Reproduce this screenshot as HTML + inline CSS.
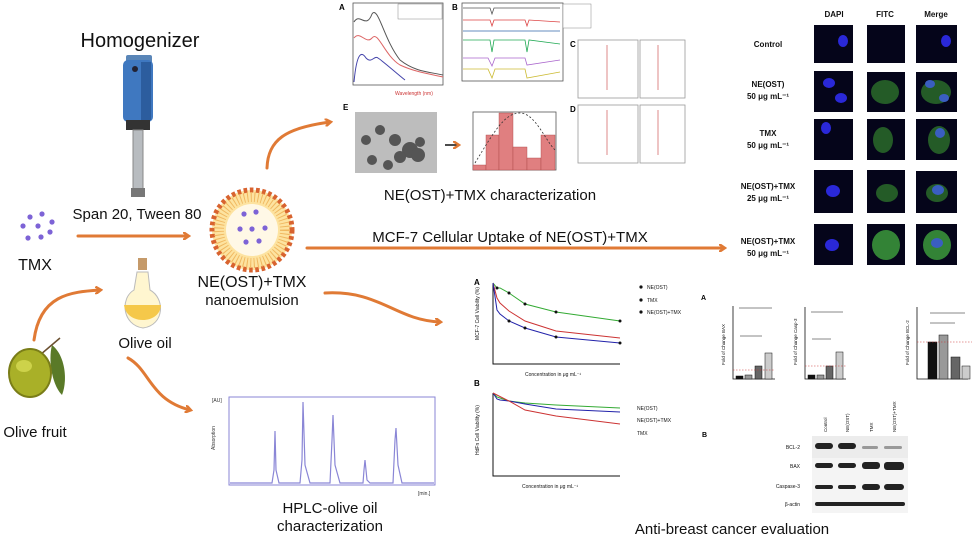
<!DOCTYPE html>
<html><head><meta charset="utf-8"><style>
html,body{margin:0;padding:0;background:#fff}
svg{display:block}
text{font-family:"Liberation Sans",sans-serif}
.big{font-family:"Liberation Sans",sans-serif;fill:#111}
</style></head><body>
<svg width="975" height="538" viewBox="0 0 975 538" xmlns="http://www.w3.org/2000/svg">
<defs>
<marker id="ah" markerWidth="8" markerHeight="8" refX="5" refY="4" orient="auto" markerUnits="userSpaceOnUse"><path d="M0,0 L6,4 L0,8" fill="none" stroke="#e07a35" stroke-width="2.5"/></marker>
</defs>
<g fill="none" stroke="#e07a35" stroke-width="3" stroke-linecap="round" marker-end="url(#ah)">
<path d="M78,236 L188,236"/>
<path d="M307,248 L724,248"/>
<path d="M267,168 C268,140 285,128 330,122"/>
<path d="M34,340 C40,295 70,292 100,290"/>
<path d="M128,358 C150,370 150,400 190,410"/>
<path d="M325,293 C380,290 395,320 440,322"/>
</g>
<!-- Homogenizer -->
<text x="140" y="47" class="big" font-size="20" text-anchor="middle">Homogenizer</text>
<rect x="126" y="55" width="26" height="8" rx="2" fill="#5a86b8"/>
<rect x="123" y="60" width="30" height="62" rx="5" fill="#3f78c0"/>
<rect x="141" y="62" width="10" height="58" fill="#2c5d9e"/>
<circle cx="135" cy="69" r="3" fill="#223"/>
<rect x="126" y="120" width="24" height="10" fill="#333"/>
<rect x="133" y="130" width="10" height="60" fill="#b8bcc0" stroke="#888" stroke-width="1"/>
<rect x="131" y="188" width="14" height="9" fill="#777"/>
<text x="137" y="219" class="big" font-size="15" text-anchor="middle">Span 20, Tween 80</text>
<!-- TMX dots -->
<g fill="#7d63d6"><circle cx="30" cy="217" r="2.6"/><circle cx="42" cy="214" r="2.6"/><circle cx="23" cy="226" r="2.6"/><circle cx="38" cy="226" r="2.6"/><circle cx="52" cy="222" r="2.6"/><circle cx="28" cy="238" r="2.6"/><circle cx="41" cy="237" r="2.6"/><circle cx="50" cy="232" r="2.6"/></g>
<text x="35" y="270" class="big" font-size="16" text-anchor="middle">TMX</text>
<!-- nanoemulsion -->
<circle cx="252" cy="230" r="40" fill="#fde3a0"/>
<circle cx="252" cy="230" r="40" fill="none" stroke="#d8632f" stroke-width="5" stroke-dasharray="3.6 2.6"/>
<circle cx="252" cy="230" r="26" fill="#fff8e6"/>
<circle cx="252" cy="230" r="33" fill="none" stroke="#f0b860" stroke-width="10" stroke-dasharray="1 2.5"/>
<g fill="#7d63d6"><circle cx="244" cy="214" r="2.6"/><circle cx="256" cy="212" r="2.6"/><circle cx="240" cy="229" r="2.6"/><circle cx="252" cy="229" r="2.6"/><circle cx="265" cy="228" r="2.6"/><circle cx="246" cy="242" r="2.6"/><circle cx="259" cy="241" r="2.6"/></g>
<text x="252" y="287" class="big" font-size="16" text-anchor="middle">NE(OST)+TMX</text>
<text x="252" y="305" class="big" font-size="15" text-anchor="middle">nanoemulsion</text>
<!-- olive oil bottle -->
<rect x="138" y="258" width="9" height="12" fill="#c59a6a"/>
<path d="M137,272 L148,272 L150,290 C165,298 165,325 143,328 C122,325 120,298 134,290 Z" fill="#fff6d0" stroke="#bbb" stroke-width="1"/>
<path d="M124,305 C126,325 160,325 161,305 Z" fill="#f5c84a"/>
<text x="145" y="348" class="big" font-size="15" text-anchor="middle">Olive oil</text>
<!-- olive fruit -->
<path d="M52,345 C65,355 68,380 62,395 C52,385 48,360 52,345Z" fill="#5a7a28"/>
<line x1="40" y1="355" x2="60" y2="338" stroke="#6b5030" stroke-width="1.5"/>
<ellipse cx="30" cy="373" rx="21" ry="24" fill="#a9b028" stroke="#7a7d18" stroke-width="2"/>
<ellipse cx="24" cy="366" rx="8" ry="6" fill="#cdd24a"/>
<text x="35" y="437" class="big" font-size="15" text-anchor="middle">Olive fruit</text>
<!-- HPLC -->
<rect x="229" y="397" width="206" height="88" fill="#fff" stroke="#8a86d6" stroke-width="1"/>
<text x="212" y="402" font-size="5" fill="#333">[AU]</text>
<text x="215" y="450" font-size="5" fill="#333" transform="rotate(-90 215 450)">Absorption</text>
<path d="M230,483 L272,483 L274,470 L275,431 L276,470 L279,483 L300,483 L302,460 L303,402 L305,465 L310,483 L330,483 L332,440 L333,415 L335,465 L340,483 L363,483 L364,470 L365,460 L367,480 L370,483 L393,483 L395,440 L396,428 L398,465 L402,483 L434,483" fill="none" stroke="#8a86d6" stroke-width="1.2"/>
<text x="418" y="495" font-size="5" fill="#333">[min.]</text>
<text x="330" y="513" class="big" font-size="15" text-anchor="middle">HPLC-olive oil</text>
<text x="330" y="531" class="big" font-size="15" text-anchor="middle">characterization</text>
<!-- Characterization panel A -->
<text x="339" y="10" font-size="8" font-weight="bold" font-family="Liberation Serif">A</text>
<rect x="353" y="3" width="90" height="82" fill="#fff" stroke="#555" stroke-width="0.8"/>
<path d="M354,22 C360,12 366,30 372,14 C378,5 384,40 400,60 C415,72 430,72 443,75" fill="none" stroke="#555" stroke-width="1"/>
<path d="M354,38 C360,30 366,45 372,38 C378,30 384,55 400,65 C415,72 430,74 443,77" fill="none" stroke="#d66" stroke-width="1"/>
<path d="M354,82 C357,50 362,52 366,58 C372,64 374,55 378,58 C384,62 395,72 405,80" fill="none" stroke="#44a" stroke-width="1"/>
<rect x="398" y="4" width="44" height="15" fill="#fff" stroke="#888" stroke-width="0.5"/>
<text x="395" y="95" font-size="5" fill="#c33">Wavelength (nm)</text>
<!-- B -->
<text x="452" y="10" font-size="8" font-weight="bold" font-family="Liberation Serif">B</text>
<rect x="462" y="3" width="101" height="78" fill="#fff" stroke="#555" stroke-width="0.8"/>
<path d="M463,8 L490,8 L492,14 L494,8 L560,8" fill="none" stroke="#555" stroke-width="0.8"/>
<path d="M463,20 L490,20 L492,26 L494,20 L525,20 L527,26 L529,20 L560,22" fill="none" stroke="#d44" stroke-width="0.8"/>
<path d="M463,31 L560,31" fill="none" stroke="#36a" stroke-width="0.8"/>
<path d="M463,40 L490,40 L492,52 L494,40 L525,40 L527,52 L529,40 L560,44" fill="none" stroke="#2a5" stroke-width="0.8"/>
<path d="M463,58 L488,58 L492,66 L495,58 L525,58 L527,65 L560,60" fill="none" stroke="#a6c" stroke-width="0.8"/>
<path d="M463,69 L488,69 L492,78 L495,69 L525,69 L527,78 L560,72" fill="none" stroke="#cb3" stroke-width="0.8"/>
<rect x="563" y="4" width="28" height="24" fill="#fff" stroke="#888" stroke-width="0.5"/>
<!-- C D -->
<text x="570" y="47" font-size="8" font-weight="bold" font-family="Liberation Serif">C</text>
<text x="570" y="112" font-size="8" font-weight="bold" font-family="Liberation Serif">D</text>
<g fill="#fff" stroke="#999" stroke-width="0.8">
<rect x="578" y="40" width="60" height="58"/><rect x="640" y="40" width="45" height="58"/>
<rect x="578" y="105" width="60" height="58"/><rect x="640" y="105" width="45" height="58"/>
</g>
<g stroke="#d88" stroke-width="1"><line x1="607" y1="45" x2="607" y2="90"/><line x1="658" y1="45" x2="658" y2="90"/><line x1="607" y1="110" x2="607" y2="155"/><line x1="658" y1="110" x2="658" y2="155"/></g>
<!-- E -->
<text x="343" y="110" font-size="8" font-weight="bold" font-family="Liberation Serif">E</text>
<rect x="355" y="112" width="82" height="61" fill="#bdbdbd"/>
<g fill="#555"><circle cx="380" cy="130" r="5"/><circle cx="366" cy="140" r="5"/><circle cx="395" cy="140" r="6"/><circle cx="410" cy="150" r="8"/><circle cx="418" cy="155" r="7"/><circle cx="400" cy="157" r="6"/><circle cx="372" cy="160" r="5"/><circle cx="388" cy="165" r="5"/><circle cx="420" cy="142" r="5"/></g>
<path d="M445,145 L458,145" stroke="#111" stroke-width="1.5" marker-end="url(#ah)"/>
<rect x="473" y="112" width="83" height="58" fill="#fff" stroke="#555" stroke-width="0.8"/>
<g fill="#e07f80" stroke="#a44" stroke-width="0.4"><rect x="473" y="165" width="13" height="5"/><rect x="486" y="135" width="13" height="35"/><rect x="499" y="113" width="14" height="57"/><rect x="513" y="147" width="14" height="23"/><rect x="527" y="158" width="14" height="12"/><rect x="541" y="135" width="14" height="35"/></g>
<path d="M475,163 C495,130 505,113 520,113 C535,113 545,140 555,150" fill="none" stroke="#333" stroke-width="0.8" stroke-dasharray="2 2"/>
<text x="490" y="200" class="big" font-size="15" text-anchor="middle">NE(OST)+TMX characterization</text>
<text x="510" y="242" class="big" font-size="15" text-anchor="middle">MCF-7 Cellular Uptake of NE(OST)+TMX</text>
<!-- microscopy -->
<g font-size="8" font-weight="bold" fill="#111" text-anchor="middle">
<text x="834" y="17">DAPI</text><text x="885" y="17">FITC</text><text x="936" y="17">Merge</text>
<text x="768" y="47">Control</text>
<text x="768" y="87">NE(OST)</text><text x="768" y="99">50 μg mL⁻¹</text>
<text x="768" y="136">TMX</text><text x="768" y="148">50 μg mL⁻¹</text>
<text x="768" y="189">NE(OST)+TMX</text><text x="768" y="201">25 μg mL⁻¹</text>
<text x="768" y="244">NE(OST)+TMX</text><text x="768" y="256">50 μg mL⁻¹</text>
</g>
<g fill="#05051a">
<rect x="814" y="25" width="39" height="38"/><rect x="867" y="25" width="38" height="38"/><rect x="916" y="25" width="41" height="38"/>
<rect x="814" y="71" width="39" height="41"/><rect x="867" y="72" width="38" height="40"/><rect x="916" y="72" width="41" height="40"/>
<rect x="814" y="119" width="39" height="41"/><rect x="867" y="119" width="38" height="41"/><rect x="916" y="119" width="41" height="41"/>
<rect x="814" y="170" width="39" height="43"/><rect x="867" y="170" width="38" height="43"/><rect x="916" y="171" width="41" height="42"/>
<rect x="814" y="224" width="39" height="41"/><rect x="867" y="224" width="38" height="41"/><rect x="916" y="224" width="41" height="41"/>
</g>
<g fill="#2a28d8">
<ellipse cx="843" cy="41" rx="5" ry="6"/><ellipse cx="946" cy="41" rx="5" ry="6"/>
<ellipse cx="829" cy="83" rx="6" ry="5"/><ellipse cx="841" cy="98" rx="6" ry="5"/>
<ellipse cx="826" cy="128" rx="5" ry="6"/><ellipse cx="833" cy="191" rx="7" ry="6"/><ellipse cx="832" cy="245" rx="7" ry="6"/>
</g>
<g fill="#2a6a2a" opacity="0.85">
<ellipse cx="885" cy="92" rx="14" ry="12"/><ellipse cx="936" cy="92" rx="15" ry="12"/>
<ellipse cx="883" cy="140" rx="10" ry="13"/><ellipse cx="939" cy="140" rx="11" ry="14"/>
<ellipse cx="887" cy="193" rx="11" ry="9"/><ellipse cx="937" cy="193" rx="11" ry="9"/>
<ellipse cx="886" cy="245" rx="14" ry="15" fill="#3c9a3c"/><ellipse cx="937" cy="245" rx="14" ry="15" fill="#3c9a3c"/>
</g>
<g fill="#3a5ec0"><ellipse cx="930" cy="84" rx="5" ry="4"/><ellipse cx="944" cy="98" rx="5" ry="4"/><ellipse cx="940" cy="133" rx="5" ry="5"/><ellipse cx="938" cy="190" rx="6" ry="5"/><ellipse cx="937" cy="243" rx="6" ry="5"/></g>
<!-- viability A -->
<text x="474" y="285" font-size="8" font-weight="bold" font-family="Liberation Serif">A</text>
<path d="M493,283 L493,364 L620,364" fill="none" stroke="#111" stroke-width="1"/>
<polyline points="493,283 497,288 500,288 509,293 525,304 556,312 620,321" fill="none" stroke="#3a3" stroke-width="1"/>
<polyline points="493,283 497,298 500,303 509,311 525,321 556,331 620,338" fill="none" stroke="#c33" stroke-width="1"/>
<polyline points="493,283 497,310 500,314 509,321 525,328 556,337 620,343" fill="none" stroke="#22a" stroke-width="1"/>
<g fill="#111"><circle cx="497" cy="288" r="1.5"/><circle cx="509" cy="293" r="1.5"/><circle cx="525" cy="304" r="1.5"/><circle cx="556" cy="312" r="1.5"/><circle cx="620" cy="321" r="1.5"/><circle cx="509" cy="321" r="1.5"/><circle cx="525" cy="328" r="1.5"/><circle cx="556" cy="337" r="1.5"/><circle cx="620" cy="343" r="1.5"/></g>
<text x="479" y="340" font-size="5" fill="#111" transform="rotate(-90 479 340)">MCF-7 Cell Viability (%)</text>
<text x="525" y="376" font-size="5" fill="#111">Concentration in μg mL⁻¹</text>
<g font-size="5" fill="#111"><text x="647" y="289">NE(OST)</text><text x="647" y="302">TMX</text><text x="647" y="314">NE(OST)+TMX</text></g>
<g fill="#111"><circle cx="641" cy="287" r="1.6"/><circle cx="641" cy="300" r="1.6"/><circle cx="641" cy="312" r="1.6"/></g>
<!-- viability B -->
<text x="474" y="386" font-size="8" font-weight="bold" font-family="Liberation Serif">B</text>
<path d="M493,393 L493,476 L620,476" fill="none" stroke="#111" stroke-width="1"/>
<polyline points="493,393 497,397 500,398 509,401 525,403 556,405 620,408" fill="none" stroke="#3a3" stroke-width="1"/>
<polyline points="493,393 497,399 500,400 509,401 525,404 556,409 620,412" fill="none" stroke="#22a" stroke-width="1"/>
<polyline points="493,393 509,401 525,410 556,416 620,424" fill="none" stroke="#c33" stroke-width="1"/>
<text x="479" y="455" font-size="5" fill="#111" transform="rotate(-90 479 455)">HdFn Cell Viability (%)</text>
<text x="522" y="488" font-size="5" fill="#111">Concentration in μg mL⁻¹</text>
<g font-size="5" fill="#111"><text x="637" y="410">NE(OST)</text><text x="637" y="422">NE(OST)+TMX</text><text x="637" y="435">TMX</text></g>
<text x="732" y="534" class="big" font-size="15" text-anchor="middle">Anti-breast cancer evaluation</text>
<!-- bar charts -->
<text x="701" y="300" font-size="7" font-weight="bold">A</text>
<g fill="none" stroke="#111" stroke-width="0.8">
<path d="M733,306 L733,379 L775,379"/><path d="M805,307 L805,379 L846,379"/><path d="M917,307 L917,379 L968,379"/>
</g>
<g stroke="#111" stroke-width="0.5">
<rect x="736" y="376" width="7" height="3" fill="#111"/><rect x="745" y="375" width="7" height="4" fill="#999"/><rect x="755" y="366" width="7" height="13" fill="#666"/><rect x="765" y="353" width="7" height="26" fill="#ccc"/>
<rect x="808" y="375" width="7" height="4" fill="#111"/><rect x="817" y="375" width="7" height="4" fill="#999"/><rect x="826" y="366" width="7" height="13" fill="#666"/><rect x="836" y="352" width="7" height="27" fill="#ccc"/>
<rect x="928" y="342" width="9" height="37" fill="#111"/><rect x="939" y="335" width="9" height="44" fill="#999"/><rect x="951" y="357" width="9" height="22" fill="#666"/><rect x="962" y="366" width="8" height="13" fill="#ccc"/>
<line x1="739" y1="308" x2="772" y2="308"/><line x1="740" y1="336" x2="762" y2="336"/>
<line x1="811" y1="312" x2="843" y2="312"/><line x1="812" y1="339" x2="831" y2="339"/>
<line x1="930" y1="313" x2="965" y2="313"/><line x1="930" y1="323" x2="955" y2="323"/>
</g>
<g stroke="#c33" stroke-width="0.6" stroke-dasharray="1.5 1.5"><line x1="733" y1="370" x2="775" y2="370"/><line x1="805" y1="366" x2="846" y2="366"/><line x1="917" y1="342" x2="972" y2="342"/></g>
<text x="725" y="365" font-size="4.5" fill="#111" transform="rotate(-90 725 365)">Fold of Change BAX</text>
<text x="797" y="365" font-size="4.5" fill="#111" transform="rotate(-90 797 365)">Fold of Change Casp-3</text>
<text x="909" y="365" font-size="4.5" fill="#111" transform="rotate(-90 909 365)">Fold of Change BCL-2</text>
<!-- western blot -->
<text x="702" y="437" font-size="7" font-weight="bold">B</text>
<rect x="812" y="436" width="96" height="22" fill="#ececec"/>
<rect x="812" y="458" width="96" height="55" fill="#f4f4f4"/>
<g fill="#222">
<rect x="815" y="443" width="18" height="6" rx="3"/><rect x="838" y="443" width="18" height="6" rx="3"/><rect x="862" y="446" width="16" height="3" rx="1.5" fill="#999"/><rect x="884" y="446" width="18" height="3" rx="1.5" fill="#999"/>
<rect x="815" y="463" width="18" height="5" rx="2.5"/><rect x="838" y="463" width="18" height="5" rx="2.5"/><rect x="862" y="462" width="18" height="7" rx="3"/><rect x="884" y="462" width="20" height="8" rx="3"/>
<rect x="815" y="485" width="18" height="4" rx="2"/><rect x="838" y="485" width="18" height="4" rx="2"/><rect x="862" y="484" width="18" height="6" rx="3"/><rect x="884" y="484" width="20" height="6" rx="3"/>
<rect x="815" y="502" width="90" height="4" rx="2"/>
</g>
<g font-size="5" fill="#111" text-anchor="end"><text x="800" y="449">BCL-2</text><text x="800" y="468">BAX</text><text x="800" y="488">Caspase-3</text><text x="800" y="506">β-actin</text></g>
<g font-size="4.5" fill="#111"><text x="827" y="432" transform="rotate(-90 827 432)">Control</text><text x="849" y="432" transform="rotate(-90 849 432)">NE(OST)</text><text x="873" y="432" transform="rotate(-90 873 432)">TMX</text><text x="896" y="432" transform="rotate(-90 896 432)">NE(OST)+TMX</text></g>
</svg>
</body></html>
